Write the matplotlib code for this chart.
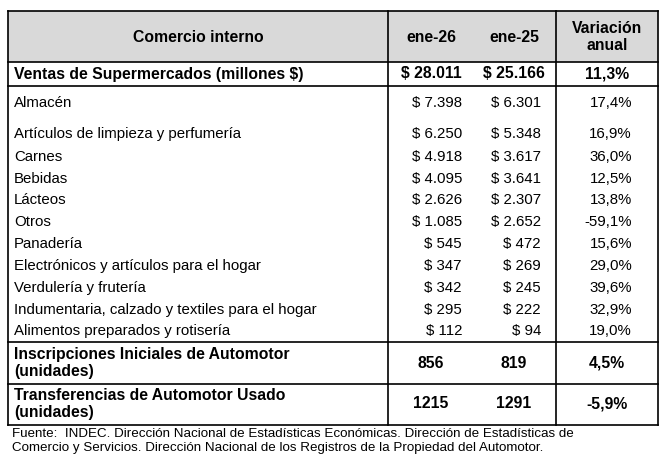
import matplotlib.pyplot as plt

plt.rcParams['font.family'] = ['Liberation Sans', 'DejaVu Sans']

header = ["Comercio interno", "ene-26", "ene-25", "Variación\nanual"]
total_row = ["Ventas de Supermercados (millones $)", "$ 28.011", "$ 25.166", "11,3%"]
items = ["Almacén", "Artículos de limpieza y perfumería", "Carnes", "Bebidas", "Lácteos",
         "Otros", "Panadería", "Electrónicos y artículos para el hogar", "Verdulería y frutería",
         "Indumentaria, calzado y textiles para el hogar", "Alimentos preparados y rotisería"]
ene26 = ["$ 7.398", "$ 6.250", "$ 4.918", "$ 4.095", "$ 2.626", "$ 1.085", "$ 545",
         "$ 347", "$ 342", "$ 295", "$ 112"]
ene25 = ["$ 6.301", "$ 5.348", "$ 3.617", "$ 3.641", "$ 2.307", "$ 2.652", "$ 472",
         "$ 269", "$ 245", "$ 222", "$ 94"]
variacion = ["17,4%", "16,9%", "36,0%", "12,5%", "13,8%", "-59,1%", "15,6%",
             "29,0%", "39,6%", "32,9%", "19,0%"]
auto_rows = [["Inscripciones Iniciales de Automotor\n(unidades)", "856", "819", "4,5%"],
             ["Transferencias de Automotor Usado\n(unidades)", "1215", "1291", "-5,9%"]]
fuente = ("Fuente:  INDEC. Dirección Nacional de Estadísticas Económicas. Dirección de Estadísticas de\n"
          "Comercio y Servicios. Dirección Nacional de los Registros de la Propiedad del Automotor.")

fig = plt.figure(figsize=(6.65, 4.59), dpi=100)
ax = fig.add_axes([0, 0, 1, 1])
ax.set_xlim(0, 665)
ax.set_ylim(459, 0)
ax.axis('off')

L, R = 8, 658
c1, c3 = 388, 556
fs = 10.8
lw = 1.2

# header
ax.add_patch(plt.Rectangle((L, 11), R - L, 51, facecolor='#d9d9d9', edgecolor='none'))
ax.text(198, 37, header[0], ha='center', va='center', fontsize=11.3, fontweight='bold')
ax.text(431, 37, header[1], ha='center', va='center', fontsize=11.3, fontweight='bold')
ax.text(514, 37, header[2], ha='center', va='center', fontsize=11.3, fontweight='bold')
ax.text(607, 37, header[3], ha='center', va='center', fontsize=11.3, fontweight='bold', linespacing=1.15)

# total row
y = 74
ax.text(14, y, total_row[0], ha='left', va='center', fontsize=11.3, fontweight='bold')
for x, t in zip([431, 514, 607], total_row[1:]):
    ax.text(x, y, t, ha='center', va='center', fontsize=11.3, fontweight='bold')

# items
ys = [103, 134, 157, 179, 200, 222, 244, 266, 288, 310, 331]
for yy, a, b, c, d in zip(ys, items, ene26, ene25, variacion):
    ax.text(14, yy, a, ha='left', va='center', fontsize=fs)
    ax.text(462, yy, b, ha='right', va='center', fontsize=fs)
    ax.text(541, yy, c, ha='right', va='center', fontsize=fs)
    ax.text(632, yy, d, ha='right', va='center', fontsize=fs)

# auto rows
for yy, row in zip([363, 404], auto_rows):
    ax.text(14, yy, row[0], ha='left', va='center', fontsize=11.3, fontweight='bold', linespacing=1.1)
    for x, t in zip([431, 514, 607], row[1:]):
        ax.text(x, yy, t, ha='center', va='center', fontsize=11.3, fontweight='bold')

# borders
for yy in [11, 62, 86, 342, 384, 425]:
    ax.plot([L, R], [yy, yy], color='black', lw=lw)
for xx in [L, c1, c3, R]:
    ax.plot([xx, xx], [11, 425], color='black', lw=lw)

ax.text(12, 441, fuente, ha='left', va='center', fontsize=9.6, linespacing=1.15)

fig.savefig('out.png', dpi=100)
